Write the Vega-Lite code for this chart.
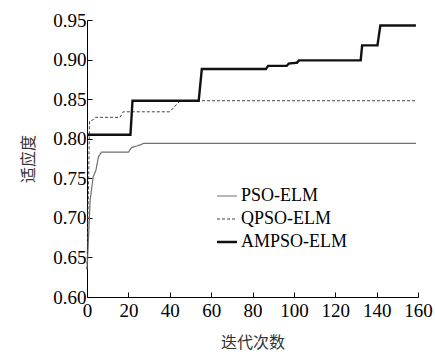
{
  "$schema": "https://vega.github.io/schema/vega-lite/v6.json",
  "width": 331,
  "height": 277,
  "autosize": {"type": "none"},
  "padding": {"left": 87, "top": 20, "right": 17, "bottom": 62},
  "background": "white",
  "config": {
    "view": {"stroke": null},
    "axis": {
      "grid": false,
      "domainColor": "#000",
      "tickColor": "#000",
      "tickSize": -5,
      "labelFont": "Liberation Serif",
      "labelFontSize": 19,
      "labelColor": "#000",
      "titleFont": "Noto Sans CJK SC",
      "titleFontWeight": "normal",
      "titleFontSize": 16,
      "titleColor": "#333333"
    },
    "legend": {
      "labelFont": "Liberation Serif",
      "labelFontSize": 18,
      "labelColor": "#000"
    }
  },
  "data": {
    "values": [
      {"s": "PSO-ELM", "x": 0, "y": 0.635},
      {"s": "PSO-ELM", "x": 0.5, "y": 0.66},
      {"s": "PSO-ELM", "x": 1.5, "y": 0.722},
      {"s": "PSO-ELM", "x": 3, "y": 0.752},
      {"s": "PSO-ELM", "x": 4.3, "y": 0.76},
      {"s": "PSO-ELM", "x": 5.5, "y": 0.777},
      {"s": "PSO-ELM", "x": 7, "y": 0.783},
      {"s": "PSO-ELM", "x": 20, "y": 0.783},
      {"s": "PSO-ELM", "x": 21.6, "y": 0.789},
      {"s": "PSO-ELM", "x": 25.6, "y": 0.792},
      {"s": "PSO-ELM", "x": 27.2, "y": 0.794},
      {"s": "PSO-ELM", "x": 159, "y": 0.794},
      {"s": "QPSO-ELM", "x": 0, "y": 0.635},
      {"s": "QPSO-ELM", "x": 0.8, "y": 0.75},
      {"s": "QPSO-ELM", "x": 1.2, "y": 0.822},
      {"s": "QPSO-ELM", "x": 3, "y": 0.824},
      {"s": "QPSO-ELM", "x": 4, "y": 0.827},
      {"s": "QPSO-ELM", "x": 16, "y": 0.827},
      {"s": "QPSO-ELM", "x": 17.5, "y": 0.834},
      {"s": "QPSO-ELM", "x": 40, "y": 0.834},
      {"s": "QPSO-ELM", "x": 45, "y": 0.848},
      {"s": "QPSO-ELM", "x": 159, "y": 0.848},
      {"s": "AMPSO-ELM", "x": 0, "y": 0.805},
      {"s": "AMPSO-ELM", "x": 21, "y": 0.805},
      {"s": "AMPSO-ELM", "x": 22, "y": 0.848},
      {"s": "AMPSO-ELM", "x": 54, "y": 0.848},
      {"s": "AMPSO-ELM", "x": 55.5, "y": 0.888},
      {"s": "AMPSO-ELM", "x": 86.5, "y": 0.888},
      {"s": "AMPSO-ELM", "x": 87.5, "y": 0.892},
      {"s": "AMPSO-ELM", "x": 96.5, "y": 0.892},
      {"s": "AMPSO-ELM", "x": 97.5, "y": 0.895},
      {"s": "AMPSO-ELM", "x": 101.5, "y": 0.896},
      {"s": "AMPSO-ELM", "x": 102.5, "y": 0.899},
      {"s": "AMPSO-ELM", "x": 132.3, "y": 0.899},
      {"s": "AMPSO-ELM", "x": 133, "y": 0.918},
      {"s": "AMPSO-ELM", "x": 140.4, "y": 0.918},
      {"s": "AMPSO-ELM", "x": 141.8, "y": 0.943},
      {"s": "AMPSO-ELM", "x": 159, "y": 0.943}
    ]
  },
  "encoding": {
    "x": {
      "field": "x", "type": "quantitative",
      "scale": {"domain": [0, 160], "nice": false},
      "axis": {"values": [0, 20, 40, 60, 80, 100, 120, 140, 160], "title": "迭代次数", "labelPadding": 9, "titlePadding": 14, "labelFlush": false}
    },
    "y": {
      "field": "y", "type": "quantitative",
      "scale": {"domain": [0.6, 0.95], "nice": false, "zero": false},
      "axis": {"values": [0.6, 0.65, 0.7, 0.75, 0.8, 0.85, 0.9, 0.95], "format": ".2f", "title": "适应度", "labelPadding": 6, "titlePadding": 16, "labelFlush": false}
    },
    "color": {
      "field": "s", "type": "nominal",
      "scale": {"domain": ["PSO-ELM", "QPSO-ELM", "AMPSO-ELM"], "range": ["#707070", "#444444", "#111111"]},
      "legend": {
        "title": null, "orient": "none", "legendX": 131, "legendY": 167, "symbolSize": 400, "rowPadding": 5, "symbolType": "stroke", "labelOffset": 5,
        "encode": {"symbols": {"update": {"strokeWidth": {"signal": "datum.value === 'AMPSO-ELM' ? 2.4 : 1.2"}}}}
      }
    },
    "strokeDash": {
      "field": "s", "type": "nominal",
      "scale": {"domain": ["PSO-ELM", "QPSO-ELM", "AMPSO-ELM"], "range": [[1, 0], [3, 2], [1, 0]]}
    }
  },
  "layer": [
    {"transform": [{"filter": "datum.s === 'PSO-ELM'"}], "mark": {"type": "line", "strokeWidth": 1.2}},
    {"transform": [{"filter": "datum.s === 'QPSO-ELM'"}], "mark": {"type": "line", "strokeWidth": 1}},
    {"transform": [{"filter": "datum.s === 'AMPSO-ELM'"}], "mark": {"type": "line", "strokeWidth": 2.4}}
  ]
}
